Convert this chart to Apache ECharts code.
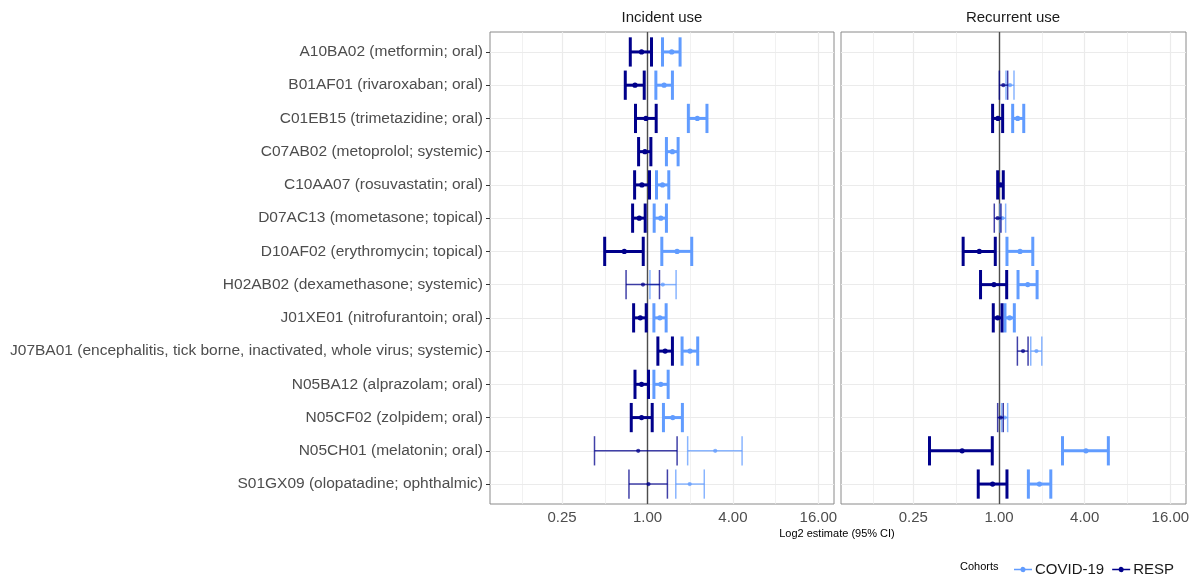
<!DOCTYPE html>
<html>
<head>
<meta charset="utf-8">
<script src="https://cdn.jsdelivr.net/npm/echarts@6/dist/echarts.min.js"></script>
<style>html,body{margin:0;padding:0;background:#fff}#c{width:1193px;height:575px}</style>
</head>
<body>
<div id="c"></div>
<script>
// ---------------- DATA ----------------
const categories = [
  "A10BA02 (metformin; oral)",
  "B01AF01 (rivaroxaban; oral)",
  "C01EB15 (trimetazidine; oral)",
  "C07AB02 (metoprolol; systemic)",
  "C10AA07 (rosuvastatin; oral)",
  "D07AC13 (mometasone; topical)",
  "D10AF02 (erythromycin; topical)",
  "H02AB02 (dexamethasone; systemic)",
  "J01XE01 (nitrofurantoin; oral)",
  "J07BA01 (encephalitis, tick borne, inactivated, whole virus; systemic)",
  "N05BA12 (alprazolam; oral)",
  "N05CF02 (zolpidem; oral)",
  "N05CH01 (melatonin; oral)",
  "S01GX09 (olopatadine; ophthalmic)"
];
const panels = ["Incident use", "Recurrent use"];
const cohorts = ["COVID-19", "RESP"];
const xTickLabels = [0.25, 1, 4, 16];
const xMinorBreaks = [0.125, 0.5, 2, 8];

// Incident use
const incRespEst = [0.908,0.816,0.975,0.959,0.913,0.875,0.686,0.929,0.889,1.331,0.908,0.908,0.860,1.016];
const incRespLo  = [0.756,0.697,0.823,0.865,0.811,0.785,0.499,0.706,0.798,1.183,0.816,0.768,0.423,0.740];
const incRespHi  = [1.067,0.948,1.151,1.056,1.033,0.963,0.933,1.214,0.979,1.498,1.016,1.079,1.616,1.381];
const incRespPrecise = [1,1,1,1,1,1,1,0,1,1,1,1,0,0];

const incCovEst = [1.482,1.309,2.244,1.498,1.275,1.241,1.616,1.282,1.222,1.993,1.241,1.507,3.000,1.983];
const incCovLo  = [1.275,1.145,1.940,1.359,1.157,1.114,1.261,1.040,1.109,1.752,1.109,1.295,1.918,1.582];
const incCovHi  = [1.696,1.498,2.624,1.643,1.412,1.359,2.049,1.590,1.353,2.258,1.398,1.761,4.640,2.512];
const incCovPrecise = [1,1,1,1,1,1,1,0,1,1,1,1,0,0];

// Recurrent use
const recRespEst = [null,1.072,0.984,null,1.027,0.979,0.727,0.922,0.979,1.476,null,1.028,0.551,0.902];
const recRespLo  = [null,1.006,0.902,null,0.979,0.927,0.560,0.742,0.912,1.347,null,0.979,0.325,0.715];
const recRespHi  = [null,1.151,1.061,null,1.072,1.033,0.942,1.133,1.050,1.601,null,1.072,0.897,1.138];
const recRespPrecise = [0,0,1,0,1,0,1,1,1,0,0,0,1,1];

const recCovEst = [null,1.196,1.354,null,null,1.055,1.406,1.593,1.189,1.833,null,1.097,4.084,1.924];
const recCovLo  = [null,1.120,1.248,null,null,1.016,1.138,1.361,1.102,1.672,null,1.044,2.795,1.609];
const recCovHi  = [null,1.275,1.493,null,null,1.114,1.728,1.853,1.282,2.000,null,1.151,5.869,2.313];
const recCovPrecise = [0,0,1,0,0,0,1,1,1,0,0,0,1,1];

// ---------------- BUILD ----------------
const COLORS = { "COVID-19": "#619CFF", "RESP": "#00008B" };
const FONT = "'Liberation Sans', Arial, Helvetica, sans-serif";
const X_MIN = Math.pow(2, -3.688);
const X_MAX = Math.pow(2, 4.366);

function rows(est, lo, hi, precise) {
  const out = [];
  for (let i = 0; i < est.length; i++) {
    if (est[i] == null) continue;
    out.push([lo[i], est[i], hi[i], i, precise[i]]);
  }
  return out;
}

function renderBar(params, api) {
  const lo = api.value(0), est = api.value(1), hi = api.value(2), row = api.value(3), precise = api.value(4);
  const pLo = api.coord([lo, row]);
  const pEst = api.coord([est, row]);
  const pHi = api.coord([hi, row]);
  const band = api.size([0, 1])[1];
  const h = band * 0.44;
  const color = api.visual('color');
  const lw = precise ? 3 : 1.5;
  const op = precise ? 1 : 0.75;
  const st = { stroke: color, lineWidth: lw, opacity: op };
  return {
    type: 'group',
    children: [
      { type: 'line', shape: { x1: pLo[0], y1: pLo[1], x2: pHi[0], y2: pHi[1] }, style: st },
      { type: 'line', shape: { x1: pLo[0], y1: pLo[1] - h, x2: pLo[0], y2: pLo[1] + h }, style: st },
      { type: 'line', shape: { x1: pHi[0], y1: pHi[1] - h, x2: pHi[0], y2: pHi[1] + h }, style: st },
      { type: 'circle', shape: { cx: pEst[0], cy: pEst[1], r: precise ? 2.6 : 2.1 }, style: { fill: color, opacity: op } }
    ]
  };
}

const panelData = [
  { "COVID-19": rows(incCovEst, incCovLo, incCovHi, incCovPrecise), "RESP": rows(incRespEst, incRespLo, incRespHi, incRespPrecise) },
  { "COVID-19": rows(recCovEst, recCovLo, recCovHi, recCovPrecise), "RESP": rows(recRespEst, recRespLo, recRespHi, recRespPrecise) }
];

const grids = [
  { left: 490, top: 32, width: 344, height: 472 },
  { left: 841, top: 32, width: 345, height: 472 }
];

const xAxes = [], yAxes = [], series = [];
const rowIdx = categories.map((_, i) => i);

grids.forEach((g, gi) => {
  g.show = true;
  g.borderColor = '#8a8a8a';
  g.borderWidth = 1;
  g.backgroundColor = '#fff';
  xAxes.push({
    type: 'log', logBase: 2, gridIndex: gi, min: X_MIN, max: X_MAX,
    axisLine: { show: false },
    splitLine: { show: false }, minorSplitLine: { show: false },
    axisTick: { show: true, customValues: xTickLabels, length: 4, lineStyle: { color: '#333' } },
    axisLabel: { customValues: xTickLabels, formatter: v => Number(v).toFixed(2), fontFamily: FONT, fontSize: 15, color: '#4d4d4d', margin: 6 }
  });
  yAxes.push({
    type: 'value', gridIndex: gi, min: -0.6, max: categories.length - 0.4, inverse: true,
    axisLine: { show: false }, splitLine: { show: false },
    axisTick: { show: gi === 0, customValues: rowIdx, length: 4, lineStyle: { color: '#333' } },
    axisLabel: { show: gi === 0, customValues: rowIdx, formatter: v => categories[Math.round(v)] || '', fontFamily: FONT, fontSize: 15.5, color: '#4d4d4d', margin: 7 }
  });
  // gridlines + reference line
  series.push({
    type: 'line', xAxisIndex: gi, yAxisIndex: gi, data: [], silent: true, z: 1,
    markLine: {
      silent: true, symbol: 'none', label: { show: false }, animation: false,
      data: [
        ...xMinorBreaks.map(v => ({ xAxis: v, lineStyle: { color: '#ebebeb', width: 0.7, type: 'solid' } })),
        ...xTickLabels.map(v => ({ xAxis: v, lineStyle: { color: '#ebebeb', width: 1.2, type: 'solid' } })),
        ...rowIdx.map(v => ({ yAxis: v, lineStyle: { color: '#ebebeb', width: 1.2, type: 'solid' } })),
        { xAxis: 1, lineStyle: { color: '#4d4d4d', width: 1.4, type: 'solid' } }
      ]
    }
  });
  cohorts.forEach(c => {
    series.push({
      name: c, type: 'custom', xAxisIndex: gi, yAxisIndex: gi, z: 5,
      itemStyle: { color: COLORS[c] },
      encode: { x: [0, 1, 2], y: 3 },
      data: panelData[gi][c],
      renderItem: renderBar
    });
  });
});

const legendIcon = 'path://M0,3.2H7.2A2.9,2.9 0 0,1 12.8,3.2H20V4.8H12.8A2.9,2.9 0 0,1 7.2,4.8H0Z';

const option = {
  animation: false,
  backgroundColor: '#fff',
  grid: grids,
  xAxis: xAxes,
  yAxis: yAxes,
  series: series,
  legend: {
    left: 1009, top: 557, itemWidth: 18, itemHeight: 8, itemGap: 8,
    data: cohorts.map(c => ({ name: c, icon: legendIcon })),
    textStyle: { fontFamily: FONT, fontSize: 15, color: '#1a1a1a', padding: [0, 0, 0, -2] },
    selectedMode: false
  },
  graphic: [
    { type: 'text', x: 662, y: 18, style: { text: panels[0], font: '15px ' + FONT, fill: '#1a1a1a', textAlign: 'center', textVerticalAlign: 'middle' } },
    { type: 'text', x: 1013, y: 18, style: { text: panels[1], font: '15px ' + FONT, fill: '#1a1a1a', textAlign: 'center', textVerticalAlign: 'middle' } },
    { type: 'text', x: 837, y: 534, style: { text: 'Log2 estimate (95% CI)', font: '11px ' + FONT, fill: '#000', textAlign: 'center', textVerticalAlign: 'middle' } },
    { type: 'text', x: 960, y: 567, style: { text: 'Cohorts', font: '11px ' + FONT, fill: '#000', textAlign: 'left', textVerticalAlign: 'middle' } }
  ]
};

const chart = echarts.init(document.getElementById('c'), null, { renderer: 'canvas' });
chart.setOption(option);
</script>
</body>
</html>
